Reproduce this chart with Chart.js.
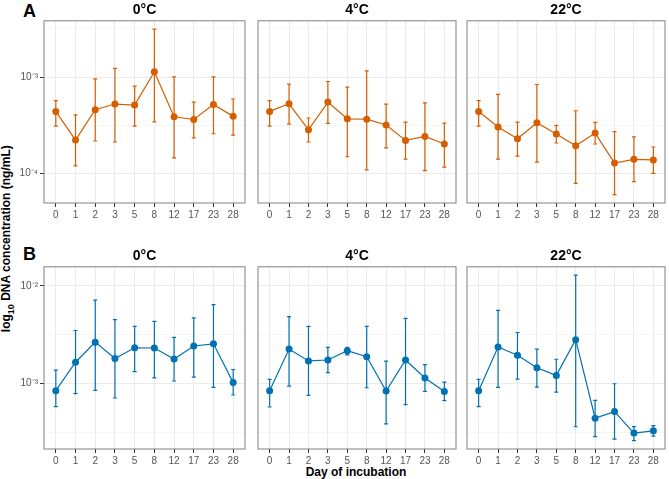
<!DOCTYPE html>
<html>
<head>
<meta charset="utf-8">
<script src="https://cdn.jsdelivr.net/npm/chart.js@4.4.1/dist/chart.umd.min.js"></script>
<style>
  body { margin: 0; background: #fff; font-family: "Liberation Sans", Arial, sans-serif; }
  #wrap { position: relative; width: 669px; height: 479px; overflow: hidden; }
  #wrap canvas { position: absolute; }
  .lbl { position: absolute; font-weight: bold; color: #000; white-space: nowrap; line-height: 1; }
</style>
</head>
<body>
<div id="wrap">
  <div class="lbl" style="left:23px;top:2px;font-size:18px">A</div>
  <div class="lbl" style="left:23px;top:245px;font-size:18px">B</div>
  <div class="lbl" style="left:-142px;top:231px;width:300px;text-align:center;font-size:12px;transform:rotate(-90deg)">log<sub style="font-size:9px">10</sub> DNA concentration (ng/mL)</div>
  <div class="lbl" style="left:256px;top:466px;width:200px;text-align:center;font-size:12px">Day of incubation</div>
</div>
<script>
const days = ['0', '1', '2', '3', '5', '8', '12', '17', '23', '28'];
const temps = ['0°C', '4°C', '22°C'];

// A (orange): means and error bar ends
const aMean0  = [4.40e-4, 2.22e-4, 4.58e-4, 5.25e-4, 5.12e-4, 1.135e-3, 3.87e-4, 3.63e-4, 5.20e-4, 3.91e-4];
const aLo0    = [3.10e-4, 1.20e-4, 2.17e-4, 2.12e-4, 3.10e-4, 3.43e-4, 1.45e-4, 2.34e-4, 2.58e-4, 2.50e-4];
const aHi0    = [5.71e-4, 4.06e-4, 9.60e-4, 1.23e-3, 8.06e-4, 3.15e-3, 1.007e-3, 5.50e-4, 1.007e-3, 5.92e-4];
const aMean4  = [4.40e-4, 5.28e-4, 2.84e-4, 5.50e-4, 3.69e-4, 3.66e-4, 3.18e-4, 2.20e-4, 2.42e-4, 2.02e-4];
const aLo4    = [3.10e-4, 3.25e-4, 2.12e-4, 3.30e-4, 1.49e-4, 1.09e-4, 1.84e-4, 1.41e-4, 1.07e-4, 1.16e-4];
const aHi4    = [5.71e-4, 8.45e-4, 3.76e-4, 9.00e-4, 7.87e-4, 1.16e-3, 5.25e-4, 3.41e-4, 5.41e-4, 3.33e-4];
const aMean22 = [4.40e-4, 3.03e-4, 2.29e-4, 3.36e-4, 2.56e-4, 1.94e-4, 2.62e-4, 1.28e-4, 1.40e-4, 1.38e-4];
const aLo22   = [3.10e-4, 1.41e-4, 1.51e-4, 1.31e-4, 2.07e-4, 7.87e-5, 2.02e-4, 6.01e-5, 8.20e-5, 1.00e-4];
const aHi22   = [5.71e-4, 6.60e-4, 3.41e-4, 8.38e-4, 3.15e-4, 4.47e-4, 3.39e-4, 2.71e-4, 2.39e-4, 1.88e-4];

// B (blue)
const bMean0  = [8.43e-4, 1.65e-3, 2.65e-3, 1.80e-3, 2.32e-3, 2.31e-3, 1.78e-3, 2.42e-3, 2.55e-3, 1.02e-3];
const bLo0    = [5.79e-4, 7.86e-4, 8.49e-4, 7.10e-4, 1.32e-3, 1.14e-3, 1.06e-3, 1.16e-3, 9.10e-4, 7.62e-4];
const bHi0    = [1.37e-3, 3.49e-3, 7.14e-3, 4.52e-3, 3.84e-3, 4.32e-3, 2.96e-3, 4.69e-3, 6.43e-3, 1.39e-3];
const bMean4  = [8.43e-4, 2.25e-3, 1.70e-3, 1.74e-3, 2.17e-3, 1.88e-3, 8.36e-4, 1.74e-3, 1.14e-3, 8.29e-4];
const bLo4    = [5.74e-4, 9.40e-4, 7.55e-4, 1.29e-3, 1.96e-3, 9.04e-4, 3.86e-4, 6.07e-4, 8.29e-4, 6.67e-4];
const bHi4    = [1.10e-3, 4.85e-3, 3.84e-3, 2.34e-3, 2.34e-3, 3.84e-3, 1.69e-3, 4.65e-3, 1.56e-3, 1.03e-3];
const bMean22 = [8.43e-4, 2.36e-3, 1.95e-3, 1.45e-3, 1.21e-3, 2.81e-3, 4.41e-4, 5.15e-4, 3.10e-4, 3.27e-4];
const bLo22   = [5.79e-4, 9.10e-4, 1.11e-3, 9.18e-4, 8.17e-4, 3.60e-4, 2.85e-4, 2.69e-4, 2.59e-4, 2.89e-4];
const bHi22   = [1.10e-3, 5.62e-3, 3.33e-3, 2.25e-3, 1.77e-3, 1.29e-2, 6.71e-4, 9.93e-4, 3.62e-4, 3.69e-4];

const rows = [
  { color: '#D55E00', top: 0,   mean: [aMean0, aMean4, aMean22], lo: [aLo0, aLo4, aLo22], hi: [aHi0, aHi4, aHi22] },
  { color: '#0072B2', top: 246, mean: [bMean0, bMean4, bMean22], lo: [bLo0, bLo4, bLo22], hi: [bHi0, bHi4, bHi22] }
];
const colLeft = [0, 254, 463];
const colWidth = [249, 206, 206];

const FONT = '"Liberation Sans", Arial, sans-serif';
const SUP = { '-': '⁻', '0': '⁰', '1': '¹', '2': '²', '3': '³', '4': '⁴', '5': '⁵', '6': '⁶', '7': '⁷', '8': '⁸', '9': '⁹' };
const sup = n => String(n).split('').map(ch => SUP[ch]).join('');

// ggplot-like 5% expansion on the log scale
function logLimits(los, his) {
  const a = Math.log10(Math.min(...los.flat()));
  const b = Math.log10(Math.max(...his.flat()));
  const pad = (b - a) * 0.05;
  return [Math.pow(10, a - pad), Math.pow(10, b + pad)];
}

const errorBars = {
  id: 'errorBars',
  beforeDatasetsDraw(chart) {
    const ds = chart.data.datasets[0];
    const xs = chart.scales.x, ys = chart.scales.y;
    const ctx = chart.ctx;
    ctx.save();
    ctx.strokeStyle = ds.borderColor;
    ctx.lineWidth = 1.2;
    ds.errLo.forEach((lo, i) => {
      const x = xs.getPixelForValue(i);
      const y1 = ys.getPixelForValue(lo), y2 = ys.getPixelForValue(ds.errHi[i]);
      ctx.beginPath();
      ctx.moveTo(x, y1); ctx.lineTo(x, y2);
      ctx.moveTo(x - 2, y1); ctx.lineTo(x + 2, y1);
      ctx.moveTo(x - 2, y2); ctx.lineTo(x + 2, y2);
      ctx.stroke();
    });
    ctx.restore();
  }
};

const panelBorder = {
  id: 'panelBorder',
  afterDatasetsDraw(chart) {
    const { ctx, chartArea: a } = chart;
    ctx.save();
    ctx.strokeStyle = '#808080';
    ctx.lineWidth = 1;
    ctx.strokeRect(a.left, a.top, a.right - a.left, a.bottom - a.top);
    ctx.restore();
  }
};

rows.forEach((row, r) => {
  const [ymin, ymax] = logLimits(row.lo, row.hi);
  temps.forEach((t, c) => {
    const cv = document.createElement('canvas');
    cv.width = colWidth[c];
    cv.height = 225;
    cv.style.left = colLeft[c] + 'px';
    cv.style.top = row.top + 'px';
    document.getElementById('wrap').appendChild(cv);
    const first = c === 0;

    new Chart(cv, {
      type: 'line',
      data: {
        datasets: [{
          data: row.mean[c].map((v, i) => ({ x: i, y: v })),
          errLo: row.lo[c],
          errHi: row.hi[c],
          borderColor: row.color,
          backgroundColor: row.color,
          borderWidth: 1.2,
          pointRadius: 3.5,
          pointBorderWidth: 0,
          tension: 0
        }]
      },
      options: {
        responsive: false,
        animation: false,
        devicePixelRatio: 1,
        layout: { padding: { left: first ? 0 : 1, right: 1, top: 0, bottom: 0 } },
        plugins: {
          legend: { display: false },
          tooltip: { enabled: false },
          title: {
            display: true, text: t, fullSize: false, color: '#000',
            font: { family: FONT, size: 14, weight: 'bold' },
            padding: { top: 2, bottom: 2 }
          }
        },
        scales: {
          x: {
            type: 'linear', min: -0.6, max: 9.6,
            afterBuildTicks: s => { s.ticks = days.map((d, i) => ({ value: i })); },
            afterFit: s => { s.height = 22; },
            border: { display: false },
            grid: { color: '#EBEBEB', lineWidth: 1, tickLength: 4, tickColor: '#333', tickWidth: 1 },
            ticks: {
              autoSkip: false, maxRotation: 0, padding: 2, color: '#555',
              font: { family: FONT, size: 10 },
              callback: v => days[v]
            }
          },
          y: {
            type: 'logarithmic', min: ymin, max: ymax,
            afterBuildTicks: s => {
              const a = Math.log10(s.min), b = Math.log10(s.max);
              const ticks = [];
              for (let e = Math.ceil(a * 2) / 2; e <= b; e += 0.5) ticks.push({ value: Math.pow(10, e), e });
              s.ticks = ticks;
            },
            afterFit: s => { s.width = first ? 44 : 0; },
            border: { display: false },
            grid: {
              drawTicks: first,
              tickLength: 4,
              tickWidth: 1,
              color: ctx => (ctx.tick && ctx.tick.e % 1 !== 0) ? '#F0F0F0' : '#EBEBEB',
              lineWidth: ctx => (ctx.tick && ctx.tick.e % 1 !== 0) ? 0.7 : 1,
              tickColor: ctx => (ctx.tick && ctx.tick.e % 1 === 0) ? '#333' : 'rgba(0,0,0,0)'
            },
            ticks: {
              display: first, autoSkip: false, padding: 2, color: '#555',
              font: { family: FONT, size: 10 },
              callback: (v, i, ticks) => ticks[i].e % 1 === 0 ? '10' + sup(ticks[i].e) : ''
            }
          }
        }
      },
      plugins: [errorBars, panelBorder]
    });
  });
});
</script>
</body>
</html>
